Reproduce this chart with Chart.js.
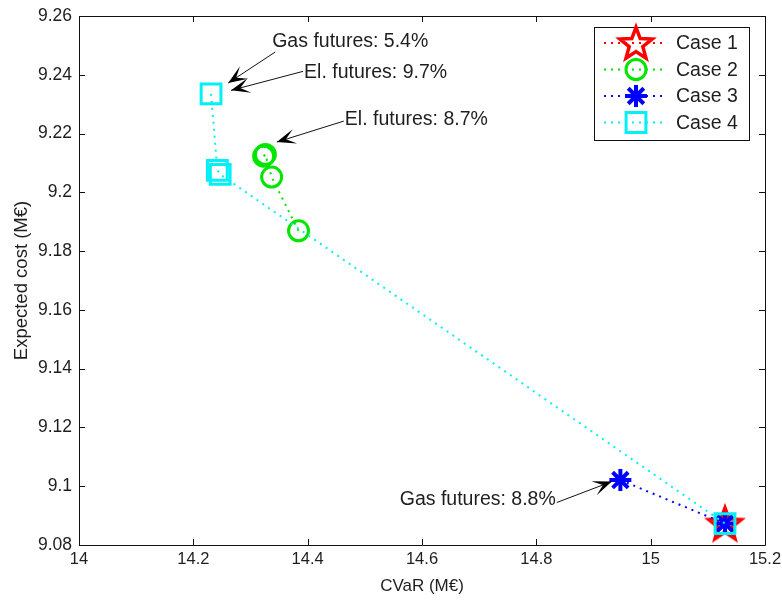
<!DOCTYPE html>
<html>
<head>
<meta charset="utf-8">
<script src="https://cdn.jsdelivr.net/npm/chart.js@4/dist/chart.umd.min.js"></script>
<style>
  html, body { margin: 0; padding: 0; background: #fff; }
  #wrap { width: 782px; height: 600px; }
</style>
</head>
<body>
<div id="wrap"><canvas id="c" width="782" height="600"></canvas></div>
<script>
// Efficient frontiers: CVaR vs expected cost for four hedging cases
const caseNames = ['Case 1', 'Case 2', 'Case 3', 'Case 4'];

const case1CVaR = [15.13];
const case1Cost = [9.0873];

const case2CVaR = [14.323, 14.326, 14.337, 14.384];
const case2Cost = [9.2123, 9.2129, 9.2052, 9.1869];

const case3CVaR = [14.947, 15.13];
const case3Cost = [9.1021, 9.0873];

const case4CVaR = [14.231, 14.242, 14.247, 15.13];
const case4Cost = [9.2335, 9.2075, 9.2061, 9.0873];

const xTickValues = [14, 14.2, 14.4, 14.6, 14.8, 15, 15.2];
const yTickValues = [9.08, 9.1, 9.12, 9.14, 9.16, 9.18, 9.2, 9.22, 9.24, 9.26];

// Arrow annotations: label text and the point each arrow touches
const noteTexts = ['Gas futures: 5.4%', 'El. futures: 9.7%', 'El. futures: 8.7%', 'Gas futures: 8.8%'];
const noteTipCVaR = [14.261, 14.266, 14.346, 14.932];
const noteTipCost = [9.2372, 9.2347, 9.2171, 9.1016];

// Label placement relative to the arrow tip (pixels)
const noteLayout = [
  { tx: 44, ty: -41, align: 'left', lx: 47, ly: -31 },
  { tx: 73, ty: -18, align: 'left', lx: 72, ly: -19 },
  { tx: 68, ty: -22, align: 'left', lx: 67, ly: -21 },
  { tx: -56, ty: 18, align: 'right', lx: -55, ly: 21 }
];

const FONT = '"Liberation Sans", Arial, Helvetica, sans-serif';
const TEXT = '#1e1e1e';

const RED = '#ff0000', GREEN = '#00e600', BLUE = '#0000ff', CYAN = '#00f0f8';

function pentagram(color, outerR, lw) {
  const s = Math.ceil(outerR * 2 + lw + 4);
  const cv = document.createElement('canvas');
  cv.width = s; cv.height = s;
  const g = cv.getContext('2d');
  const c = s / 2, innerR = outerR * 0.42;
  g.beginPath();
  for (let i = 0; i < 10; i++) {
    const r = i % 2 === 0 ? outerR : innerR;
    const a = -Math.PI / 2 + i * Math.PI / 5;
    const px = c + r * Math.cos(a), py = c + r * Math.sin(a) + outerR * 0.08;
    if (i === 0) g.moveTo(px, py); else g.lineTo(px, py);
  }
  g.closePath();
  g.lineJoin = 'miter';
  g.lineWidth = lw;
  g.strokeStyle = color;
  g.stroke();
  return cv;
}

const starMarker = pentagram(RED, 17, 3.5);

function pts(xs, ys) { return xs.map((x, i) => ({ x: x, y: ys[i] })); }

const datasets = [
  { label: caseNames[0], data: pts(case1CVaR, case1Cost), borderColor: RED,
    pointStyle: starMarker, pointRadius: 17, pointBorderWidth: 3, order: 4 },
  { label: caseNames[1], data: pts(case2CVaR, case2Cost), borderColor: GREEN,
    pointStyle: 'circle', pointRadius: 10, pointBorderWidth: 3, order: 3 },
  { label: caseNames[2], data: pts(case3CVaR, case3Cost), borderColor: BLUE,
    pointStyle: 'star', pointRadius: 11, pointBorderWidth: 4, order: 2 },
  { label: caseNames[3], data: pts(case4CVaR, case4Cost), borderColor: CYAN,
    pointStyle: 'rect', pointRadius: 14, pointBorderWidth: 3, order: 1 }
].map(d => Object.assign(d, {
  showLine: true,
  borderWidth: 2,
  borderDash: [2, 5],
  backgroundColor: 'rgba(0,0,0,0)',
  pointBorderColor: d.borderColor,
  pointBackgroundColor: 'rgba(0,0,0,0)',
  pointHoverRadius: d.pointRadius,
  tension: 0
}));

function fmt(v) { return String(Number(v.toFixed(2))); }

// Axis box with inward tick marks on all four sides
const boxPlugin = {
  id: 'boxTicks',
  afterDraw(chart) {
    const { ctx, chartArea: a, scales } = chart;
    ctx.save();
    ctx.strokeStyle = '#111';
    ctx.lineWidth = 1;
    ctx.beginPath();
    ctx.rect(Math.round(a.left) + 0.5, Math.round(a.top) + 0.5,
             Math.round(a.right - a.left), Math.round(a.bottom - a.top));
    const L = 6;
    xTickValues.forEach(v => {
      const x = Math.round(scales.x.getPixelForValue(v)) + 0.5;
      ctx.moveTo(x, a.bottom); ctx.lineTo(x, a.bottom - L);
      ctx.moveTo(x, a.top); ctx.lineTo(x, a.top + L);
    });
    yTickValues.forEach(v => {
      const y = Math.round(scales.y.getPixelForValue(v)) + 0.5;
      ctx.moveTo(a.left, y); ctx.lineTo(a.left + L, y);
      ctx.moveTo(a.right, y); ctx.lineTo(a.right - L, y);
    });
    ctx.stroke();
    ctx.restore();
  }
};

function arrowHead(ctx, tx, ty, fx, fy) {
  const dx = tx - fx, dy = ty - fy, len = Math.hypot(dx, dy);
  const ux = dx / len, uy = dy / len, nx = -uy, ny = ux;
  const L = 19, W = 7.5, N = 0.5;
  ctx.beginPath();
  ctx.moveTo(tx, ty);
  ctx.lineTo(tx - L * ux + W * nx, ty - L * uy + W * ny);
  ctx.lineTo(tx - N * L * ux, ty - N * L * uy);
  ctx.lineTo(tx - L * ux - W * nx, ty - L * uy - W * ny);
  ctx.closePath();
  ctx.fill();
}

const notesPlugin = {
  id: 'arrowNotes',
  afterDatasetsDraw(chart) {
    const { ctx, scales } = chart;
    ctx.save();
    ctx.strokeStyle = '#111';
    ctx.lineWidth = 1;
    ctx.font = '19.5px ' + FONT;
    ctx.textBaseline = 'middle';
    noteTexts.forEach((t, i) => {
      const px = scales.x.getPixelForValue(noteTipCVaR[i]);
      const py = scales.y.getPixelForValue(noteTipCost[i]);
      const lay = noteLayout[i];
      const fx = px + lay.lx, fy = py + lay.ly;
      ctx.beginPath();
      ctx.moveTo(fx, fy); ctx.lineTo(px, py);
      ctx.stroke();
      ctx.fillStyle = '#000';
      arrowHead(ctx, px, py, fx, fy);
      ctx.fillStyle = TEXT;
      ctx.textAlign = lay.align;
      ctx.fillText(t, px + lay.tx, py + lay.ty);
    });
    ctx.restore();
  }
};

// Legend box in the upper-right corner, drawn with each dataset's line and marker
const legendPlugin = {
  id: 'boxLegend',
  afterDraw(chart) {
    const { ctx, chartArea: a } = chart;
    const left = Math.round(a.right) - 171, top = Math.round(a.top) + 11;
    const w = 155, h = 113, rowH = 26.5;
    ctx.save();
    ctx.fillStyle = '#fff';
    ctx.fillRect(left, top, w, h);
    ctx.strokeStyle = '#111';
    ctx.lineWidth = 1;
    ctx.strokeRect(left + 0.5, top + 0.5, w, h);
    chart.data.datasets.forEach((d, i) => {
      const y = top + 16 + i * rowH;
      ctx.save();
      ctx.strokeStyle = d.borderColor;
      ctx.lineWidth = 2;
      ctx.setLineDash([2, 5]);
      ctx.beginPath();
      ctx.moveTo(left + 10, y); ctx.lineTo(left + 72, y);
      ctx.stroke();
      ctx.setLineDash([]);
      ctx.lineWidth = d.pointBorderWidth;
      ctx.fillStyle = 'rgba(0,0,0,0)';
      Chart.helpers.drawPoint(ctx, {
        pointStyle: d.pointStyle, radius: d.pointRadius, borderWidth: d.pointBorderWidth, rotation: 0
      }, left + 42, y);
      ctx.restore();
      ctx.fillStyle = TEXT;
      ctx.font = '19.5px ' + FONT;
      ctx.textAlign = 'left';
      ctx.textBaseline = 'middle';
      ctx.fillText(d.label, left + 82, y + 1);
    });
    ctx.restore();
  }
};

new Chart(document.getElementById('c'), {
  type: 'scatter',
  data: { datasets: datasets },
  options: {
    responsive: false,
    animation: false,
    layout: { autoPadding: false, padding: { top: 16, right: 17, left: 0, bottom: 0 } },
    plugins: { legend: { display: false }, tooltip: { enabled: false } },
    scales: {
      x: {
        type: 'linear', min: 14, max: 15.2,
        afterBuildTicks: s => { s.ticks = xTickValues.map(v => ({ value: v })); },
        afterFit: s => { s.height = 55; s.paddingLeft = 0; s.paddingRight = 0; },
        grid: { display: false, drawTicks: false },
        border: { display: false },
        ticks: { callback: v => fmt(v), padding: 5, maxRotation: 0, autoSkip: false,
                 color: TEXT, font: { family: FONT, size: 16.5 } },
        title: { display: true, text: 'CVaR (M€)', color: TEXT,
                 font: { family: FONT, size: 17 }, padding: { top: 0, bottom: 3 } }
      },
      y: {
        type: 'linear', min: 9.08, max: 9.26,
        afterBuildTicks: s => { s.ticks = yTickValues.map(v => ({ value: v })); },
        afterFit: s => { s.width = 79; s.paddingTop = 0; s.paddingBottom = 0; },
        grid: { display: false, drawTicks: false },
        border: { display: false },
        ticks: { callback: v => fmt(v), padding: 7, autoSkip: false,
                 color: TEXT, font: { family: FONT, size: 17.5 } },
        title: { display: true, text: 'Expected cost (M€)', color: TEXT,
                 font: { family: FONT, size: 18.5 }, padding: { top: 11, bottom: 0 } }
      }
    }
  },
  plugins: [boxPlugin, notesPlugin, legendPlugin]
});
</script>
</body>
</html>
